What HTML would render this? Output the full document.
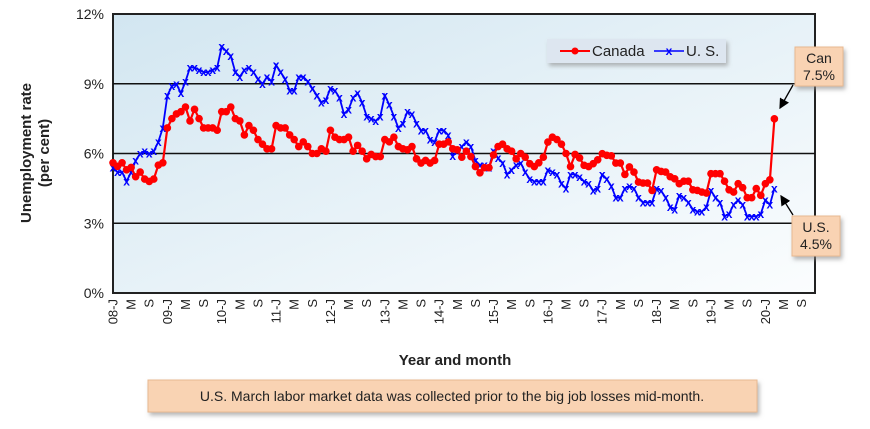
<!DOCTYPE html>
<html><head><meta charset="utf-8"><style>
body{margin:0;background:#fff;width:870px;height:424px;overflow:hidden;font-family:"Liberation Sans",sans-serif}
</style></head><body>
<svg width="870" height="424" xmlns="http://www.w3.org/2000/svg">
<defs>
<linearGradient id="bg" x1="0" y1="0" x2="1" y2="1"><stop offset="0" stop-color="#d2e6f1"/><stop offset="1" stop-color="#fbfdfe"/></linearGradient>
<filter id="sh" x="-10%" y="-10%" width="130%" height="140%"><feDropShadow dx="2" dy="3" stdDeviation="2" flood-color="#888" flood-opacity="0.6"/></filter>
<marker id="ah" markerWidth="8" markerHeight="8" refX="7" refY="4" orient="auto"><path d="M0,0 L8,4 L0,8 Z" fill="#000"/></marker>
</defs>
<rect x="113" y="14" width="702" height="279" fill="url(#bg)" stroke="#222" stroke-width="2"/>
<g id="grid"></g>
<g id="ylabels" font-size="14" fill="#222" text-anchor="end"></g>
<g id="xlabels" font-size="13" fill="#222"></g>
<g id="series"></g>
<text transform="translate(35,153) rotate(-90)" text-anchor="middle" font-size="15" font-weight="bold" fill="#222"><tspan x="0" dy="-4">Unemployment rate</tspan><tspan x="0" dy="18">(per cent)</tspan></text>
<text x="455" y="365" text-anchor="middle" font-size="15" font-weight="bold" fill="#222">Year and month</text>
<g>
<rect x="547" y="39" width="179" height="24" fill="#dde6f0" filter="url(#sh)"/>
<line x1="560" y1="51" x2="590" y2="51" stroke="red" stroke-width="2"/><circle cx="575" cy="51" r="3.5" fill="red"/>
<text x="592" y="56" font-size="15" fill="#222">Canada</text>
<line x1="654" y1="51" x2="684" y2="51" stroke="blue" stroke-width="1.5"/><text x="669" y="55" font-size="12" fill="blue" text-anchor="middle" font-weight="bold">x</text>
<text x="686" y="56" font-size="15" fill="#222">U. S.</text>
</g>
<g>
<rect x="795" y="47" width="48" height="39" fill="#f9d3b3" stroke="#e8b890" filter="url(#sh)"/>
<text x="819" y="63" font-size="14" text-anchor="middle" fill="#222">Can</text>
<text x="819" y="80" font-size="14" text-anchor="middle" fill="#222">7.5%</text>
<line x1="793" y1="85" x2="780" y2="108" stroke="#000" stroke-width="1.3" marker-end="url(#ah)"/>
</g>
<g>
<rect x="792" y="216" width="48" height="40" fill="#f9d3b3" stroke="#e8b890" filter="url(#sh)"/>
<text x="816" y="232" font-size="14" text-anchor="middle" fill="#222">U.S.</text>
<text x="816" y="249" font-size="14" text-anchor="middle" fill="#222">4.5%</text>
<line x1="793" y1="215" x2="781" y2="196" stroke="#000" stroke-width="1.3" marker-end="url(#ah)"/>
</g>
<g>
<rect x="148" y="380" width="609" height="32" fill="#f9d3b3" stroke="#e8b890" filter="url(#sh)"/>
<text x="452" y="401" font-size="14" text-anchor="middle" fill="#222">U.S. March labor market data was collected prior to the big job losses mid-month.</text>
</g>
</svg>
<script>
const yTicks=[0,3,6,9,12];
const xTickLabels=["08-J","M","S","09-J","M","S","10-J","M","S","11-J","M","S","12-J","M","S","13-J","M","S","14-J","M","S","15-J","M","S","16-J","M","S","17-J","M","S","18-J","M","S","19-J","M","S","20-J","M","S"];
const canada=[5.6,5.45,5.6,5.3,5.4,5.0,5.2,4.9,4.8,4.9,5.5,5.6,
7.1,7.5,7.7,7.8,8.0,7.4,7.9,7.5,7.1,7.1,7.1,7.0,
7.8,7.8,8.0,7.5,7.4,6.8,7.2,7.0,6.6,6.4,6.2,6.2,
7.2,7.1,7.1,6.8,6.6,6.3,6.5,6.3,6.0,6.0,6.2,6.1,
7.0,6.7,6.6,6.6,6.7,6.1,6.35,6.1,5.77,5.96,5.87,5.87,6.6,6.5,6.7,6.3,6.2,6.16,6.3,5.77,5.59,5.7,5.59,5.7,6.4,6.4,6.5,6.2,6.16,5.84,6.1,5.87,5.44,5.17,5.39,5.39,5.94,6.3,6.4,6.2,6.1,5.77,6.0,5.84,5.56,5.44,5.6,5.84,6.49,6.7,6.6,6.4,6.0,5.44,5.96,
5.81,5.49,5.44,5.56,5.73,5.99,5.92,5.9,5.59,5.59,5.1,5.42,5.2,4.77,4.73,4.73,4.41,5.3,5.23,5.2,5.0,4.91,4.7,4.81,4.81,4.44,4.41,4.34,4.3,5.13,5.13,5.13,4.81,4.44,4.34,4.7,4.53,4.1,4.1,4.49,4.2,4.7,4.87,7.49];
const us=[5.4,5.2,5.2,4.8,5.2,5.7,6.0,6.1,6.0,6.1,6.5,7.1,
8.5,8.9,9.0,8.6,9.1,9.7,9.7,9.6,9.5,9.5,9.6,9.7,
10.6,10.4,10.2,9.5,9.3,9.6,9.7,9.5,9.2,9.0,9.3,9.1,
9.8,9.5,9.2,8.7,8.7,9.3,9.3,9.1,8.8,8.5,8.2,8.3,
8.8,8.7,8.4,7.7,7.9,8.4,8.6,8.2,7.6,7.5,7.4,7.6,
8.5,8.1,7.6,7.1,7.3,7.8,7.7,7.3,7.0,7.0,6.6,6.5,
7.0,7.0,6.8,5.9,6.1,6.3,6.5,6.3,5.7,5.5,5.5,5.4,
6.1,5.8,5.6,5.1,5.3,5.5,5.6,5.2,4.9,4.8,4.8,4.8,
5.3,5.2,5.1,4.7,4.5,5.1,5.1,5.0,4.8,4.7,4.4,4.5,
5.1,4.9,4.6,4.1,4.1,4.5,4.6,4.5,4.1,3.9,3.9,3.9,
4.5,4.4,4.1,3.7,3.6,4.2,4.1,3.9,3.6,3.5,3.5,3.7,
4.4,4.1,3.9,3.3,3.4,3.8,4.0,3.8,3.3,3.3,3.3,3.4,
4.0,3.8,4.5];
const NS="http://www.w3.org/2000/svg";
function X(i){return 113+i*4.53;}
function Y(v){return 293-v*23.25;}
function mk(tag,attrs,parent){const e=document.createElementNS(NS,tag);for(const k in attrs)e.setAttribute(k,attrs[k]);parent.appendChild(e);return e;}
const grid=document.getElementById('grid'),yl=document.getElementById('ylabels'),xl=document.getElementById('xlabels'),ser=document.getElementById('series');
yTicks.forEach(v=>{
  if(v>0&&v<12){const l=mk('line',{x1:113,x2:815,y1:Y(v),y2:Y(v),stroke:'#111','stroke-width':1.5},grid);
  
  }
  const t=mk('text',{x:104,y:Y(v)+5},yl);t.textContent=v+'%';
  
  
});
xTickLabels.forEach((s,k)=>{
  const x=X(k*4)+4.5;
  const t=mk('text',{transform:`translate(${x},299) rotate(-90)`,'text-anchor':'end'},xl);t.textContent=s;
  
  
});
function line(data){return data.map((v,i)=>(i?'L':'M')+X(i).toFixed(1)+','+Y(v).toFixed(1)).join('');}
const pu=mk('path',{d:line(us),fill:'none',stroke:'blue','stroke-width':1.8},ser);


us.forEach((v,i)=>{const t=mk('text',{x:X(i),y:Y(v)+4,'font-size':12,'font-weight':'bold','text-anchor':'middle',fill:'blue'},ser);t.textContent='x';
  
  });
const pc=mk('path',{d:line(canada),fill:'none',stroke:'red','stroke-width':2.2},ser);


canada.forEach((v,i)=>{const c=mk('circle',{cx:X(i),cy:Y(v),r:3.8,fill:'red'},ser);
  
  });
</script>
</body></html>
